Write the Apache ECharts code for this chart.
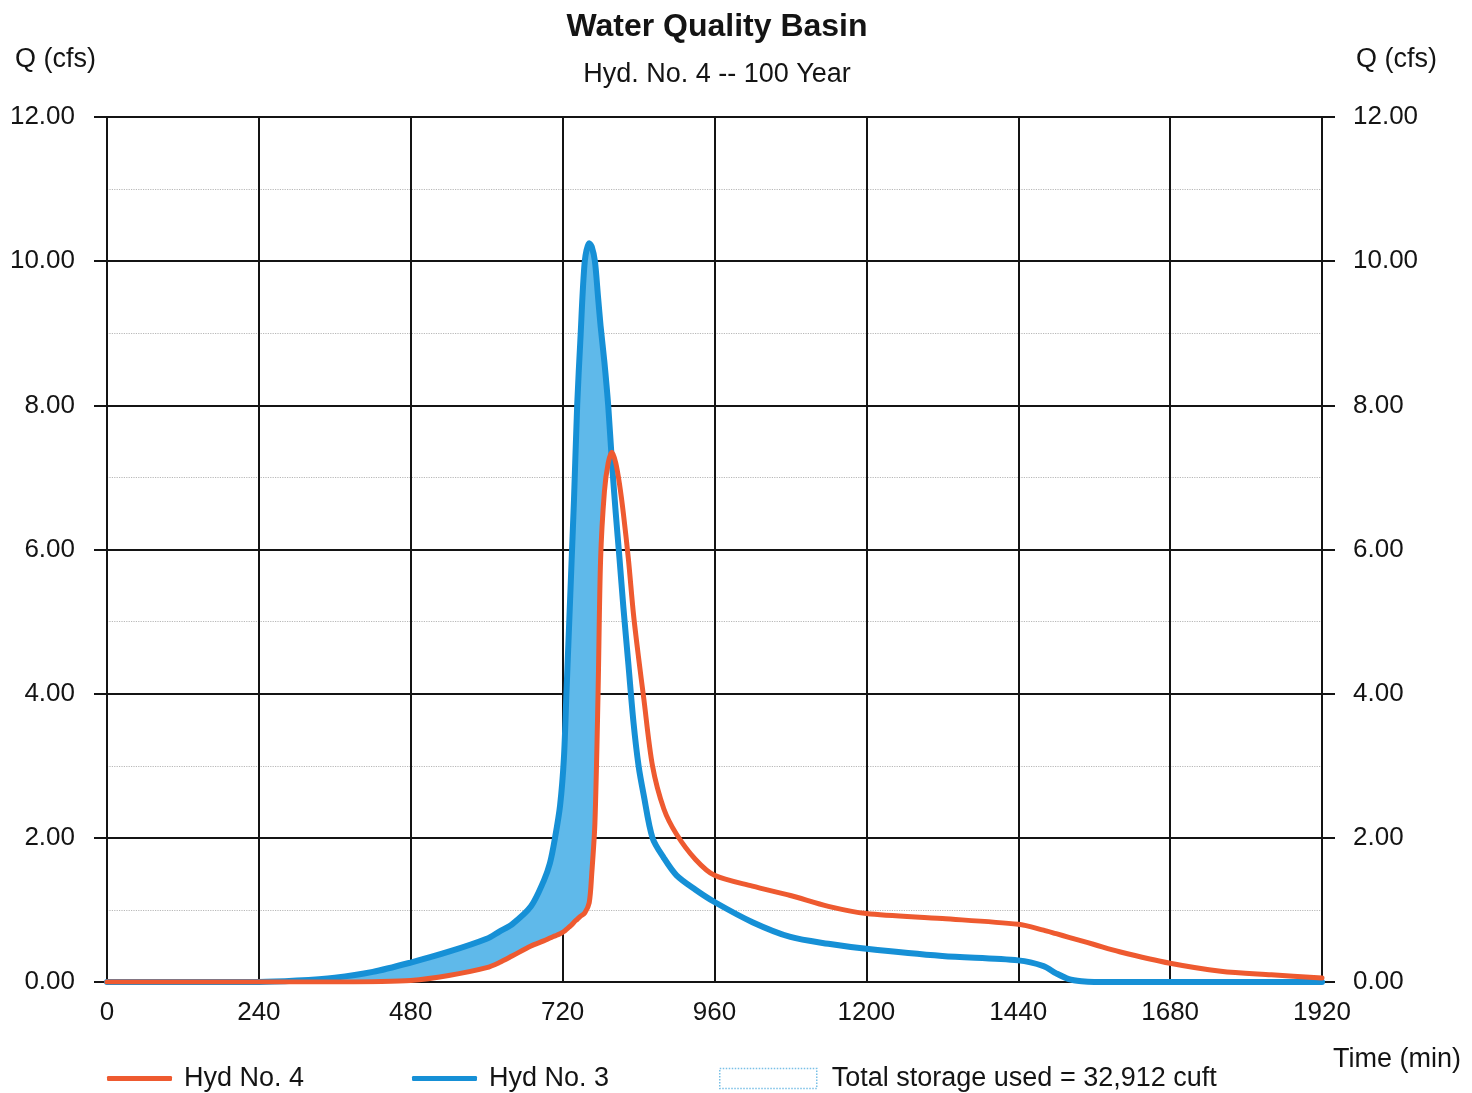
<!DOCTYPE html>
<html>
<head>
<meta charset="utf-8">
<script src="https://cdn.jsdelivr.net/npm/echarts@6/dist/echarts.min.js"></script>
<style>
  html, body { margin: 0; padding: 0; background: #fff; }
  #container { width: 1472px; height: 1093px; }
</style>
</head>
<body>
<div id="container"></div>
<script>
var times = [0, 240, 300, 360, 420, 480, 540, 600, 620, 640, 670, 690, 700, 708, 716, 722, 726, 730, 734, 738, 743, 748, 755, 762, 766, 771, 776, 780, 786, 792, 798, 804, 810, 816, 824, 832, 840, 848, 862, 880, 900, 930, 960, 1020, 1080, 1140, 1200, 1320, 1440, 1480, 1500, 1520, 1540, 1560, 1600, 1680, 1760, 1840, 1920];
var hyd3 = [0, 0, 0.02, 0.06, 0.14, 0.27, 0.42, 0.6, 0.7, 0.8, 1.05, 1.4, 1.65, 2.0, 2.45, 3.1, 4.0, 4.9, 5.8, 6.7, 8.0, 8.9, 10.0, 10.25, 10.2, 10.0, 9.5, 9.1, 8.6, 8.0, 7.2, 6.5, 5.86, 5.2, 4.4, 3.6, 3.0, 2.6, 2.0, 1.72, 1.48, 1.28, 1.11, 0.83, 0.625, 0.53, 0.46, 0.36, 0.3, 0.22, 0.12, 0.04, 0.01, 0, 0, 0, 0, 0, 0];
var hyd4 = [0, 0, 0, 0, 0.005, 0.02, 0.09, 0.2, 0.27, 0.36, 0.5, 0.57, 0.61, 0.64, 0.67, 0.7, 0.73, 0.76, 0.79, 0.83, 0.87, 0.91, 0.96, 1.1, 1.5, 2.2, 4.0, 5.86, 6.8, 7.2, 7.35, 7.2, 6.9, 6.5, 5.86, 5.1, 4.5, 3.95, 3.0, 2.4, 2.05, 1.7, 1.48, 1.33, 1.2, 1.05, 0.95, 0.88, 0.8, 0.72, 0.67, 0.62, 0.57, 0.52, 0.42, 0.26, 0.15, 0.1, 0.055];
var xTicks = [0, 240, 480, 720, 960, 1200, 1440, 1680, 1920];
var yTicks = [0, 2, 4, 6, 8, 10, 12];
var storageLabel = "Total storage used = 32,912 cuft";

var font = "Liberation Sans, Arial, Helvetica, sans-serif";
var ink = "#141414";
var blue = "#1690d6";
var orange = "#ee5a30";
var fillBlue = "#5fb9ea";

var dom = document.getElementById("container");
var myChart = echarts.init(dom);

function pairs(ys) {
  return times.map(function (t, i) { return [t, ys[i]]; });
}

// polygon between hyd3 (top) and hyd4 (bottom) while inflow is above outflow
function storageShape(params, api) {
  var start = -1, end = -1;
  for (var i = 0; i < times.length; i++) {
    if (hyd3[i] > hyd4[i]) {
      if (start < 0) start = i;
      end = i;
    } else if (start >= 0) {
      break;
    }
  }
  if (start < 0) return null;
  var s = Math.max(start - 1, 0);
  var top = [], bottom = [];
  for (var j = s; j <= end; j++) {
    top.push(api.coord([times[j], hyd3[j]]));
    bottom.push(api.coord([times[j], hyd4[j]]));
  }
  if (end + 1 < times.length) {
    var d0 = hyd3[end] - hyd4[end];
    var d1 = hyd3[end + 1] - hyd4[end + 1];
    var f = d0 / (d0 - d1);
    var tx = times[end] + f * (times[end + 1] - times[end]);
    var qy = hyd3[end] + f * (hyd3[end + 1] - hyd3[end]);
    top.push(api.coord([tx, qy]));
  }
  return {
    type: "polygon",
    shape: { points: top.concat(bottom.reverse()) },
    style: { fill: fillBlue, stroke: null }
  };
}

var option = {
  backgroundColor: "#fff",
  animation: false,
  textStyle: { fontFamily: font, color: ink },
  title: [
    { text: "Water Quality Basin", left: 712, top: 6, textAlign: "center",
      textStyle: { fontFamily: font, fontSize: 32, fontWeight: "bold", color: ink } },
    { text: "Hyd. No. 4 -- 100 Year", left: 712, top: 56, textAlign: "center",
      textStyle: { fontFamily: font, fontSize: 27, fontWeight: "normal", color: ink } },
    { text: "Q (cfs)", left: 10, top: 41,
      textStyle: { fontFamily: font, fontSize: 27, fontWeight: "normal", color: ink } },
    { text: "Q (cfs)", left: 1351, top: 41,
      textStyle: { fontFamily: font, fontSize: 27, fontWeight: "normal", color: ink } },
    { text: "Time (min)", left: 1328, top: 1041,
      textStyle: { fontFamily: font, fontSize: 27, fontWeight: "normal", color: ink } }
  ],
  legend: [
    { left: 107, top: 1065, padding: 0, itemWidth: 65, itemHeight: 5, itemGap: 0,
      textStyle: { fontFamily: font, fontSize: 27, color: ink, padding: [0, 0, 0, 7] },
      data: [{ name: "Hyd No. 4", icon: "roundRect", itemStyle: { color: orange } }] },
    { left: 412, top: 1065, padding: 0, itemWidth: 65, itemHeight: 5, itemGap: 0,
      textStyle: { fontFamily: font, fontSize: 27, color: ink, padding: [0, 0, 0, 7] },
      data: [{ name: "Hyd No. 3", icon: "roundRect", itemStyle: { color: blue } }] },
    { left: 719, top: 1065, padding: 0, itemWidth: 97, itemHeight: 20, itemGap: 0,
      textStyle: { fontFamily: font, fontSize: 27, color: ink, padding: [0, 0, 0, 10] },
      data: [{ name: storageLabel, icon: "rect",
        itemStyle: { color: "#fff", borderColor: "#79c0e6", borderWidth: 1.5, borderType: "dotted" } }] }
  ],
  grid: { left: 107, right: 150, top: 117, bottom: 111, containLabel: false },
  xAxis: {
    type: "value",
    min: xTicks[0],
    max: xTicks[xTicks.length - 1],
    interval: xTicks[1] - xTicks[0],
    axisLine: { show: false },
    axisTick: { show: false },
    axisLabel: { fontFamily: font, fontSize: 26, color: ink, margin: 18,
      formatter: function (v) { return String(v); } },
    splitLine: { show: true, lineStyle: { color: ink, width: 2 } }
  },
  yAxis: [
    {
      type: "value",
      position: "left",
      min: yTicks[0],
      max: yTicks[yTicks.length - 1],
      interval: yTicks[1] - yTicks[0],
      axisLine: { show: false },
      axisTick: { show: true, length: 13, lineStyle: { color: ink, width: 2 } },
      axisLabel: { fontFamily: font, fontSize: 26, color: ink, margin: 32,
        formatter: function (v) { return v.toFixed(2); } },
      splitLine: { show: true, lineStyle: { color: ink, width: 2 } },
      minorTick: { show: false, splitNumber: 2 },
      minorSplitLine: { show: true, lineStyle: { color: "#b8b8b8", width: 1.2, type: "dotted" } }
    },
    {
      type: "value",
      position: "right",
      min: yTicks[0],
      max: yTicks[yTicks.length - 1],
      interval: yTicks[1] - yTicks[0],
      axisLine: { show: false },
      axisTick: { show: true, length: 13, lineStyle: { color: ink, width: 2 } },
      axisLabel: { fontFamily: font, fontSize: 26, color: ink, margin: 31,
        formatter: function (v) { return v.toFixed(2); } },
      splitLine: { show: false }
    }
  ],
  series: [
    {
      name: storageLabel,
      type: "custom",
      renderItem: storageShape,
      data: [[0, 0]],
      itemStyle: { color: "#fff", borderColor: "#79c0e6" },
      silent: true,
      z: 1
    },
    {
      name: "Hyd No. 3",
      type: "line",
      data: pairs(hyd3),
      smooth: 0.3,
      symbol: "none",
      lineStyle: { color: blue, width: 6, join: "round", cap: "round" },
      itemStyle: { color: blue },
      z: 2
    },
    {
      name: "Hyd No. 4",
      type: "line",
      data: pairs(hyd4),
      smooth: 0.3,
      symbol: "none",
      lineStyle: { color: orange, width: 5, join: "round", cap: "round" },
      itemStyle: { color: orange },
      z: 3
    }
  ]
};

if (option && typeof option === "object") {
  myChart.setOption(option, true);
}
</script>
</body>
</html>
